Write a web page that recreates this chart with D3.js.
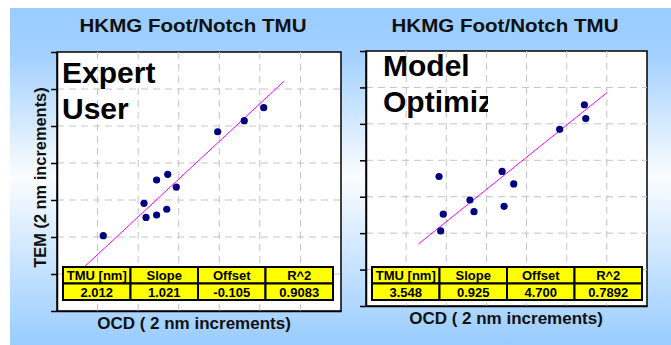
<!DOCTYPE html>
<html>
<head>
<meta charset="utf-8">
<script src="https://cdn.jsdelivr.net/npm/d3@7"></script>
<style>
  body { margin: 0; background: #fff; }
  svg { display: block; font-family: "Liberation Sans", Arial, sans-serif; }
  .grid line { stroke: #c4c4c4; stroke-dasharray: 7,5; }
  .axis path, .axis line { stroke: #000; stroke-width: 1.5; }
  .cell { fill: #ffff00; stroke: #000; stroke-width: 2; }
</style>
</head>
<body>
<div id="chart"></div>
<script>
var svgWidth = 671;
var svgHeight = 345;

// chart text
var chartTitle = "HKMG Foot/Notch TMU";
var xLabel = "OCD ( 2 nm increments)";
var yLabel = "TEM (2 nm increments)";
var tableHeaders = ["TMU [nm]", "Slope", "Offset", "R^2"];

// grid ticks, in 2 nm steps
var xTicks = [0, 2, 4, 6, 8, 10, 12, 14];
var yTicks = [0, 2, 4, 6, 8, 10, 12, 14];

// expert user panel
var expertLabel = ["Expert", "User"];
var expertOCD = [2.28, 4.29, 4.39, 4.91, 5.41, 4.91, 5.46, 5.88, 7.92, 9.23, 10.19];
var expertTEM = [4.07, 5.82, 5.06, 5.19, 5.50, 7.08, 7.39, 6.70, 9.69, 10.29, 10.99];
var expertFitOCD = [0.9, 11.2];
var expertFitTEM = [1.93, 12.43];
var expertStats = ["2.012", "1.021", "-0.105", "0.9083"];

// model optimized panel
var modelLabel = ["Model", "Optimiz"];
var modelOCD = [10.88, 10.95, 9.65, 6.78, 3.64, 7.36, 5.18, 3.85, 5.38, 6.88, 3.72];
var modelTEM = [11.05, 10.29, 9.70, 7.39, 7.11, 6.70, 5.82, 5.04, 5.18, 5.47, 4.12];
var modelFitOCD = [2.61, 11.99];
var modelFitTEM = [3.40, 11.70];
var modelStats = ["3.548", "0.925", "4.700", "0.7892"];

var svg = d3.select("#chart")
  .append("svg")
  .attr("width", svgWidth)
  .attr("height", svgHeight);

var grad = svg.append("defs").append("linearGradient")
  .attr("id", "bg")
  .attr("x1", 0).attr("y1", 0).attr("x2", 0).attr("y2", 1);
grad.append("stop").attr("offset", "0%").attr("stop-color", "#99ccff");
grad.append("stop").attr("offset", "14%").attr("stop-color", "#a3d1ff");
grad.append("stop").attr("offset", "50%").attr("stop-color", "#fbfdff");
grad.append("stop").attr("offset", "100%").attr("stop-color", "#99ccff");

svg.append("rect")
  .attr("x", 10).attr("y", 8)
  .attr("width", svgWidth - 10).attr("height", svgHeight - 8)
  .attr("fill", "url(#bg)");

function drawPanel(p) {
  var x = d3.scaleLinear().domain([0, 14]).range([p.left, p.right]);
  var y = d3.scaleLinear().domain([0, 14]).range([p.bottom, p.top]);
  var g = svg.append("g");

  g.append("text")
    .attr("x", p.titleX).attr("y", 32)
    .attr("text-anchor", "middle")
    .attr("textLength", 227).attr("lengthAdjust", "spacingAndGlyphs")
    .style("font-size", "19px").style("font-weight", "bold").style("fill", "#111")
    .text(chartTitle);

  g.append("rect")
    .attr("x", p.left).attr("y", p.top)
    .attr("width", p.right - p.left).attr("height", p.bottom - p.top)
    .attr("fill", "#fff").attr("stroke", "#000").attr("stroke-width", 1.5);

  var grid = g.append("g").attr("class", "grid");
  grid.selectAll(".vg")
    .data(xTicks.slice(1, -1))
    .enter().append("line")
    .attr("x1", d => x(d)).attr("x2", d => x(d))
    .attr("y1", p.top).attr("y2", p.bottom);
  grid.selectAll(".hg")
    .data(yTicks.slice(1, -1))
    .enter().append("line")
    .attr("y1", d => y(d)).attr("y2", d => y(d))
    .attr("x1", p.left).attr("x2", p.right);

  g.append("g").attr("class", "axis")
    .attr("transform", `translate(${p.left}, 0)`)
    .call(d3.axisLeft(y).tickValues(yTicks).tickSize(6).tickSizeOuter(0).tickFormat(""));
  g.append("g").attr("class", "axis")
    .attr("transform", `translate(0, ${p.bottom})`)
    .call(d3.axisBottom(x).tickValues([]).tickSizeOuter(0));

  // fit line
  var fit = p.fitX.map((d, i) => [d, p.fitY[i]]);
  g.append("path")
    .datum(fit)
    .attr("d", d3.line().x(d => x(d[0])).y(d => y(d[1])))
    .attr("fill", "none").attr("stroke", "#ff00ff").attr("stroke-width", 1);

  g.selectAll(".dot")
    .data(p.ocd)
    .enter().append("circle")
    .attr("cx", d => x(d))
    .attr("cy", (d, i) => y(p.tem[i]))
    .attr("r", 3.6)
    .attr("fill", "#000080");

  // big label
  var clipId = "clip" + p.titleX;
  svg.select("defs").append("clipPath").attr("id", clipId)
    .append("rect").attr("x", p.left).attr("y", p.top)
    .attr("width", p.clipW).attr("height", 80);
  g.append("g").attr("clip-path", `url(#${clipId})`)
    .selectAll("text")
    .data(p.label)
    .enter().append("text")
    .attr("x", p.labelX)
    .attr("y", (d, i) => p.labelY + i * 36)
    .style("font-size", "30px").style("font-weight", "bold").style("fill", "#000")
    .text(d => d);

  // stats table
  var col = d3.scaleBand().domain(d3.range(4)).range([p.left + 6, p.left + 276]);
  var row = d3.scaleBand().domain([0, 1]).range([267, 300]);
  var rows = [tableHeaders, p.stats];
  rows.forEach((vals, r) => {
    var cells = g.selectAll(".row" + r)
      .data(vals)
      .enter().append("g");
    cells.append("rect").attr("class", "cell")
      .attr("x", (d, i) => col(i)).attr("y", row(r))
      .attr("width", col.bandwidth()).attr("height", row.bandwidth());
    cells.append("text")
      .attr("x", (d, i) => col(i) + col.bandwidth() / 2)
      .attr("y", row(r) + row.bandwidth() / 2 + 5)
      .attr("text-anchor", "middle")
      .style("font-size", "13px").style("font-weight", "bold")
      .text(d => d);
  });

  g.append("text")
    .attr("x", p.titleX + 1).attr("y", p.xLabelY)
    .attr("text-anchor", "middle")
    .style("font-size", "17px").style("font-weight", "bold").style("fill", "#111")
    .text(xLabel);

  if (p.showY) {
    g.append("text")
      .attr("transform", `translate(46, ${(p.top + p.bottom) / 2 - 4}) rotate(-90)`)
      .attr("text-anchor", "middle")
      .style("font-size", "16.4px").style("font-weight", "bold").style("fill", "#111")
      .text(yLabel);
  }
}

drawPanel({
  left: 57, right: 341, top: 52, bottom: 311,
  titleX: 193, xLabelY: 329, showY: true,
  labelX: 62, labelY: 83, clipW: 200, label: expertLabel,
  ocd: expertOCD, tem: expertTEM, fitX: expertFitOCD, fitY: expertFitTEM,
  stats: expertStats
});

drawPanel({
  left: 366, right: 647, top: 51, bottom: 306,
  titleX: 505, xLabelY: 324, showY: false,
  labelX: 383, labelY: 76, clipW: 122, label: modelLabel,
  ocd: modelOCD, tem: modelTEM, fitX: modelFitOCD, fitY: modelFitTEM,
  stats: modelStats
});
</script>
</body>
</html>
